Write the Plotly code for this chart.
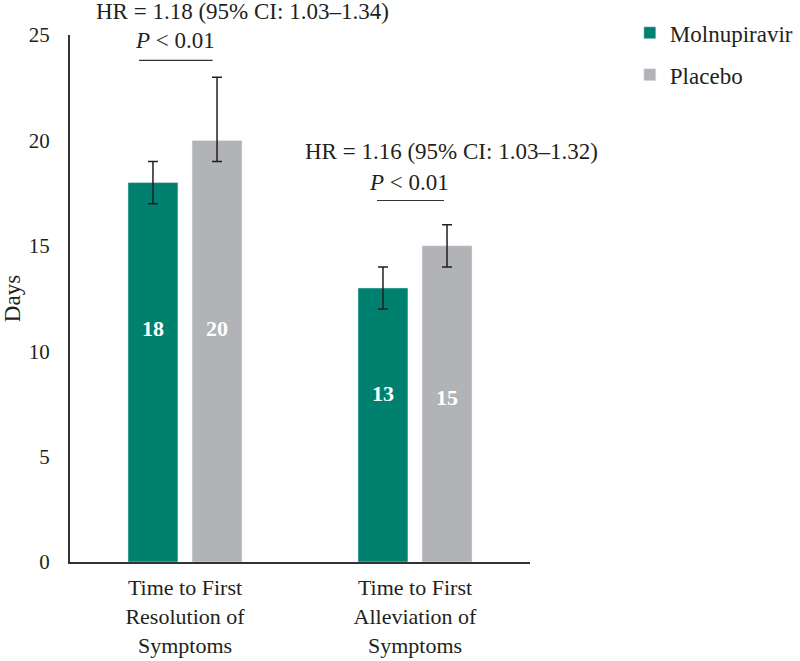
import plotly.graph_objects as go

categories = ["Time to First<br>Resolution of<br>Symptoms", "Time to First<br>Alleviation of<br>Symptoms"]
molnupiravir = [18, 13]
molnupiravir_lo = [17, 12]
molnupiravir_hi = [19, 14]
placebo = [20, 15]
placebo_lo = [19, 14]
placebo_hi = [23, 16]
hr_texts = ["HR = 1.18 (95% CI: 1.03\u20131.34)", "HR = 1.16 (95% CI: 1.03\u20131.32)"]
p_texts = ["<i>P</i> < 0.01", "<i>P</i> < 0.01"]

FONT = "Liberation Serif, Times New Roman, serif"
TXT = "#231f20"
TEAL = "#00806f"
GRAY = "#b1b3b6"
FS = 23
YMAX = 25

fig = go.Figure()
fig.add_trace(go.Bar(
    x=categories, y=molnupiravir, name="Molnupiravir",
    marker=dict(color=TEAL), legendgroup="a",
    error_y=dict(type="data", symmetric=False,
                 array=[h - v for h, v in zip(molnupiravir_hi, molnupiravir)],
                 arrayminus=[v - l for l, v in zip(molnupiravir_lo, molnupiravir)],
                 color=TXT, thickness=1.5, width=5),
))
fig.add_trace(go.Bar(
    x=categories, y=placebo, name="Placebo",
    marker=dict(color=GRAY), legendgroup="b",
    error_y=dict(type="data", symmetric=False,
                 array=[h - v for h, v in zip(placebo_hi, placebo)],
                 arrayminus=[v - l for l, v in zip(placebo_lo, placebo)],
                 color=TXT, thickness=1.5, width=5),
))

# value labels inside bars (Excel placed them a bit above middle)
label_y = [[11.1, 8.0], [11.1, 7.8]]
offsets = [-0.139, 0.139]
for s, vals in enumerate([molnupiravir, placebo]):
    for i, v in enumerate(vals):
        fig.add_annotation(x=i + offsets[s], y=label_y[s][i], text=f"<b>{v}</b>",
                           showarrow=False, font=dict(color="white", size=22, family=FONT))

# HR + P annotations with bracket line (y in domain units so they can sit above the axis)
hr_pos = [(0.248, 26.1), (1.157, 19.45)]
p_pos = [(-0.045, 24.75), (0.975, 18.0)]
line_pos = [(-0.2, 0.12, 23.8), (0.835, 1.126, 17.15)]
for i in range(2):
    fig.add_annotation(x=hr_pos[i][0], y=hr_pos[i][1] / YMAX, yref="y domain",
                       yanchor="middle", text=hr_texts[i], showarrow=False,
                       font=dict(size=FS, family=FONT, color=TXT))
    fig.add_annotation(x=p_pos[i][0], y=p_pos[i][1] / YMAX, yref="y domain",
                       yanchor="middle", text=p_texts[i], showarrow=False,
                       font=dict(size=FS, family=FONT, color=TXT))
    x0, x1, yl = line_pos[i]
    fig.add_shape(type="line", x0=x0, x1=x1, y0=yl, y1=yl, xref="x", yref="y",
                  line=dict(color="#333", width=1.2))

fig.update_layout(
    width=800, height=661,
    margin=dict(l=70, r=270, t=35, b=99, autoexpand=False),
    plot_bgcolor="white", paper_bgcolor="white",
    barmode="group", bargap=0.443, bargroupgap=0.22,
    font=dict(family=FONT, size=FS, color=TXT),
    legend=dict(x=1.217, y=1.045, xanchor="left", yanchor="top",
                font=dict(size=FS, family=FONT, color=TXT), tracegroupgap=9,
                itemwidth=30),
    xaxis=dict(range=[-0.5, 1.5], showline=True, linecolor="#333", linewidth=2,
               showgrid=False, ticks="", tickfont=dict(size=22), automargin=False,
               ticklabelstandoff=5),
    yaxis=dict(range=[0, YMAX], dtick=5, showline=True, linecolor="#333", linewidth=2,
               showgrid=False, zeroline=False, ticks="", ticklabelstandoff=14,
               tickfont=dict(size=21), automargin=False,
               title=dict(text="Days", font=dict(size=FS), standoff=10)),
)

# drop the default 8px body margin so the figure sits at the page corner
fig.write_html("out.html", config={"displayModeBar": False},
               post_script="document.body.style.margin='0';")
